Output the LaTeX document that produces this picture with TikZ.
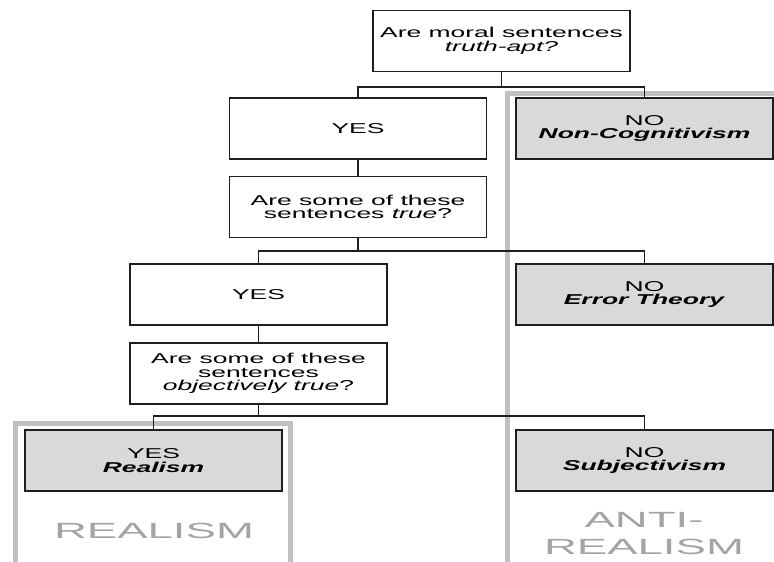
\documentclass[tikz,border=0pt]{standalone}
\usepackage{fontspec}
\usepackage{graphicx}
\setmainfont{Liberation Sans}
\newfontfamily\bodyfont[FakeStretch=1.85]{Liberation Sans}
\newfontfamily\labfont{Liberation Sans}
\newcommand{\labtext}[1]{\scalebox{2.07}[1]{#1}}
\definecolor{boxgray}{HTML}{D9D9D9}
\definecolor{framegray}{HTML}{C0C0C0}
\definecolor{labgray}{HTML}{A4A4A4}
\definecolor{linedark}{HTML}{1E1E1E}
\begin{document}
\begin{tikzpicture}[x=1pt,y=-1pt,
  wbox/.style={draw=linedark, line width=1.5pt, fill=white, minimum width=257pt, minimum height=61pt, inner sep=0pt, align=center, font=\bodyfont\fontsize{14.3}{13.5}\selectfont},
  gbox/.style={wbox, fill=boxgray},
  conn/.style={draw=linedark, line width=1.8pt},
  frame/.style={draw=framegray, line width=5pt},
  lab/.style={text=labgray, font=\labfont\fontsize{22}{28}\selectfont, anchor=base, inner sep=0pt}]
\useasboundingbox (0,0) rectangle (774,562);
% group frames
\draw[frame] (15,570) -- (15,423) -- (290,423) -- (290,570);
\draw[frame] (507,570) -- (507,93) -- (780,93);
% boxes
\node[wbox] (q1) at (501.5,41) {Are moral sentences\\\textit{truth-apt?}};
\node[wbox] (yes1) at (358,128.5) {YES};
\node[wbox] (q2) at (358,207) {Are some of these\\sentences \textit{true}?};
\node[wbox] (yes2) at (258.5,294.5) {YES};
\node[wbox] (q3) at (258.5,373.5) {Are some of these\\sentences\\\textit{objectively true}?};
\node[gbox] (realism) at (153.5,460.5) {YES\\\textbf{\textit{Realism}}};
\node[gbox] (noncog) at (644.5,128.5) {NO\\\textbf{\textit{Non-Cognitivism}}};
\node[gbox] (error) at (644.5,294.5) {NO\\\textbf{\textit{Error Theory}}};
\node[gbox] (subj) at (644.5,460.5) {NO\\\textbf{\textit{Subjectivism}}};
% junctions
\coordinate (j1) at (501.5,87);
\coordinate (j2) at (358,251);
\coordinate (j3) at (258.5,416);
% connectors
\draw[conn] (q1.south) -- (j1);
\draw[conn] (yes1.north) |- (j1) -| (noncog.north);
\draw[conn] (yes1.south) -- (q2.north);
\draw[conn] (q2.south) -- (j2);
\draw[conn] (yes2.north) |- (j2) -| (error.north);
\draw[conn] (yes2.south) -- (q3.north);
\draw[conn] (q3.south) -- (j3);
\draw[conn] (realism.north) |- (j3) -| (subj.north);
% group labels
\node[lab] (lreal) at (154,538) {\labtext{REALISM}};
\node[lab] (lanti1) at (644,527) {\labtext{ANTI-}};
\node[lab] (lanti2) at (644,554) {\labtext{REALISM}};
\end{tikzpicture}
\end{document}
